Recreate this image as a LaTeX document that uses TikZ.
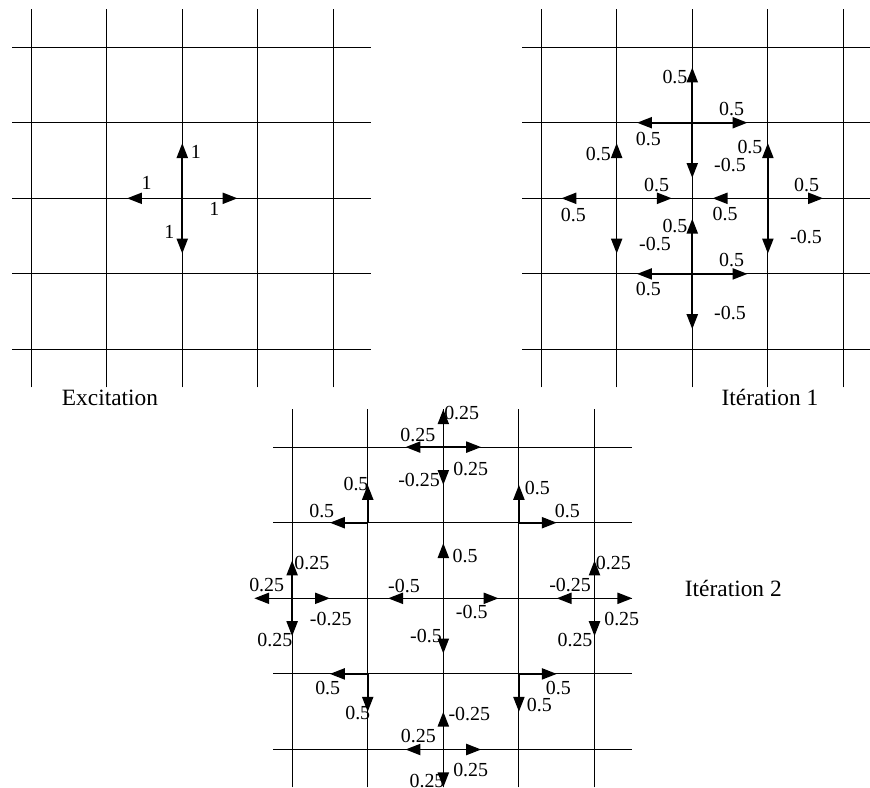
\documentclass[tikz,border=0pt]{standalone}
\usepackage{fontspec}
\setmainfont{Liberation Serif}
\usetikzlibrary{arrows.meta}

\begin{document}
\begin{tikzpicture}[
    gridline/.style={line width=0.4pt},
    pulse/.style={-{Triangle[length=5.6pt,width=4.2pt]}, line width=0.6pt},
    val/.style={inner sep=0pt, font=\fontsize{7.5}{9}\selectfont},
    caption/.style={anchor=base, inner sep=0pt, font=\fontsize{8.8}{10}\selectfont},
]
\useasboundingbox (0,0) rectangle (11.508,-10.41);

% Meshes: one cell = 1cm
\foreach \cx/\cy in {2.411/-2.623, 9.157/-2.623, 5.864/-7.914} {
  \foreach \k in {-2,...,2} {
    \draw[gridline] (\cx+\k,\cy-2.5) -- (\cx+\k,\cy+2.5);
    \draw[gridline] (\cx-2.25,\cy+\k) -- (\cx+2.5,\cy+\k);
  }
}

% Excitation
\begin{scope}[shift={(2.411,-2.623)}]
\coordinate (g1c) at (0,0);
\foreach \a in {0,90,180,270} \draw[pulse] (g1c) -- ++(\a:0.73);
\node[val] (g1up) at (0.181,0.612) {1};
\node[val] (g1lt) at (-0.471,0.206) {1};
\node[val] (g1rt) at (0.423,-0.146) {1};
\node[val] (g1dn) at (-0.172,-0.442) {1};
\end{scope}
\node[caption] (cap1) at (1.455,-5.370) {Excitation};

% Iteration 1
\begin{scope}[shift={(9.157,-2.623)}]
\coordinate (g2n) at (0,1);
\coordinate (g2w) at (-1,0);
\coordinate (g2e) at (1,0);
\coordinate (g2s) at (0,-1);
\foreach \p in {g2n,g2w,g2e,g2s}
  \foreach \a in {0,90,180,270} \draw[pulse] (\p) -- ++(\a:0.73);
\node[val] (g2a) at (-0.229,1.600) {0.5};
\node[val] (g2b) at (0.521,1.177) {0.5};
\node[val] (g2c) at (-0.582,0.780) {0.5};
\node[val] (g2d) at (0.499,0.440) {-0.5};
\node[val] (g2e1) at (-1.243,0.586) {0.5};
\node[val] (g2f) at (0.763,0.683) {0.5};
\node[val] (g2g) at (-0.471,0.176) {0.5};
\node[val] (g2h) at (1.513,0.176) {0.5};
\node[val] (g2i) at (-1.574,-0.221) {0.5};
\node[val] (g2j) at (0.433,-0.208) {0.5};
\node[val] (g2k) at (-0.229,-0.362) {0.5};
\node[val] (g2l) at (-0.493,-0.605) {-0.5};
\node[val] (g2m) at (1.504,-0.508) {-0.5};
\node[val] (g2n1) at (0.521,-0.816) {0.5};
\node[val] (g2o) at (-0.582,-1.204) {0.5};
\node[val] (g2p) at (0.499,-1.513) {-0.5};
\end{scope}
\node[caption] (cap2) at (10.185,-5.370) {Itération 1};

% Iteration 2
\begin{scope}[shift={(5.864,-7.914)}]
\coordinate (g3c) at (0,0);
\coordinate (g3nn) at (0,2);
\coordinate (g3ww) at (-2,0);
\coordinate (g3ee) at (2,0);
\coordinate (g3ss) at (0,-2);
\coordinate (g3nw) at (-1,1);
\coordinate (g3ne) at (1,1);
\coordinate (g3sw) at (-1,-1);
\coordinate (g3se) at (1,-1);
\foreach \a in {0,90,180,270} \draw[pulse] (g3c) -- ++(\a:0.73);
\foreach \p in {g3nn,g3ww,g3ee,g3ss}
  \foreach \a in {0,90,180,270} \draw[pulse] (\p) -- ++(\a:0.5);
\foreach \p/\a in {g3nw/90, g3nw/180, g3ne/90, g3ne/0,
                   g3sw/180, g3sw/270, g3se/0, g3se/270}
  \draw[pulse] (\p) -- ++(\a:0.5);
% top
\node[val] (g3t1) at (0.243,2.455) {0.25};
\node[val] (g3t2) at (-0.337,2.164) {0.25};
\node[val] (g3t3) at (0.362,1.706) {0.25};
\node[val] (g3t4) at (-0.321,1.561) {-0.25};
% upper corners
\node[val] (g3u1) at (-1.155,1.512) {0.5};
\node[val] (g3u2) at (1.243,1.463) {0.5};
\node[val] (g3u3) at (-1.608,1.159) {0.5};
\node[val] (g3u4) at (1.640,1.159) {0.5};
% centre
\node[val] (g3c1) at (0.287,0.560) {0.5};
\node[val] (g3c2) at (-0.520,0.163) {-0.5};
\node[val] (g3c3) at (0.376,-0.177) {-0.5};
\node[val] (g3c4) at (-0.229,-0.499) {-0.5};
% left
\node[val] (g3l1) at (-1.739,0.471) {0.25};
\node[val] (g3l2) at (-2.336,0.176) {0.25};
\node[val] (g3l3) at (-1.489,-0.278) {-0.25};
\node[val] (g3l4) at (-2.228,-0.552) {0.25};
% right
\node[val] (g3r1) at (2.249,0.463) {0.25};
\node[val] (g3r2) at (1.676,0.176) {-0.25};
\node[val] (g3r3) at (2.360,-0.278) {0.25};
\node[val] (g3r4) at (1.742,-0.552) {0.25};
% lower corners
\node[val] (g3d1) at (-1.529,-1.183) {0.5};
\node[val] (g3d2) at (1.521,-1.183) {0.5};
\node[val] (g3d3) at (1.270,-1.411) {0.5};
\node[val] (g3d4) at (-1.132,-1.521) {0.5};
% bottom
\node[val] (g3b1) at (0.344,-1.530) {-0.25};
\node[val] (g3b2) at (-0.331,-1.821) {0.25};
\node[val] (g3b3) at (0.362,-2.271) {0.25};
\node[val] (g3b4) at (-0.216,-2.423) {0.25};
\end{scope}
\node[caption] (cap3) at (9.700,-7.893) {Itération 2};

\end{tikzpicture}
\end{document}
